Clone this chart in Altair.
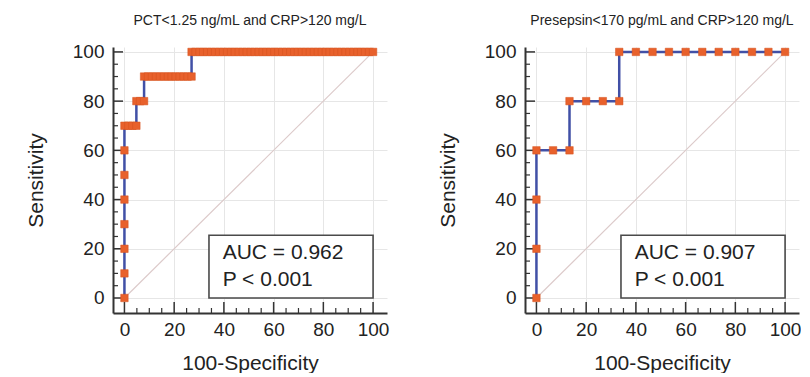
import altair as alt
import pandas as pd

# ---------------- data ----------------
left_title = "PCT<1.25 ng/mL and CRP>120 mg/L"
right_title = "Presepsin<170 pg/mL and CRP>120 mg/L"
left_auc = ["AUC = 0.962", "P < 0.001"]
right_auc = ["AUC = 0.907", "P < 0.001"]

# ROC points (100-Specificity, Sensitivity)
left_x = [0, 0, 0, 0, 0, 0, 0, 0,
          1.6, 3.2, 4.8,
          4.8, 6.3, 7.9,
          7.9, 9.5, 11.1, 12.7, 14.3, 15.9, 17.5, 19.0, 20.6, 22.2, 23.8, 25.4, 27.0,
          27.0, 28.6, 30.2, 31.7, 33.3, 34.9, 36.5, 38.1, 39.7, 41.3, 42.9, 44.4,
          46.0, 47.6, 49.2, 50.8, 52.4, 54.0, 55.6, 57.1, 58.7, 60.3, 61.9, 63.5,
          65.1, 66.7, 68.3, 69.8, 71.4, 73.0, 74.6, 76.2, 77.8, 79.4, 81.0, 82.5,
          84.1, 85.7, 87.3, 88.9, 90.5, 92.1, 93.7, 95.2, 96.8, 98.4, 100]
left_y = [0, 10, 20, 30, 40, 50, 60, 70,
          70, 70, 70,
          80, 80, 80,
          90, 90, 90, 90, 90, 90, 90, 90, 90, 90, 90, 90, 90,
          100, 100, 100, 100, 100, 100, 100, 100, 100, 100, 100, 100,
          100, 100, 100, 100, 100, 100, 100, 100, 100, 100, 100, 100,
          100, 100, 100, 100, 100, 100, 100, 100, 100, 100, 100, 100,
          100, 100, 100, 100, 100, 100, 100, 100, 100, 100, 100]

right_x = [0, 0, 0, 0, 6.7, 13.3, 13.3, 20.0, 26.7, 33.3,
           33.3, 40.0, 46.7, 53.3, 60.0, 66.7, 73.3, 80.0, 86.7, 93.3, 100]
right_y = [0, 20, 40, 60, 60, 60, 80, 80, 80, 80,
           100, 100, 100, 100, 100, 100, 100, 100, 100, 100, 100]

major_ticks = [0, 20, 40, 60, 80, 100]
minor_ticks = [5, 10, 15, 25, 30, 35, 45, 50, 55, 65, 70, 75, 85, 90, 95]

# ---------------- style ----------------
W, H = 274, 266
XDOM = [-4.6, 105.6]
YDOM = [-6.1, 102]
FONT = "Liberation Sans"
AX = "#333333"
ORANGE = "#E8612C"
BLUE = "#4150A6"


def panel(xs, ys, title, auc):
    roc = pd.DataFrame({"fpr": xs, "sens": ys, "order": list(range(len(xs)))})
    xsc = alt.Scale(domain=XDOM, nice=False, zero=False)
    ysc = alt.Scale(domain=YDOM, nice=False, zero=False)

    x_axis = alt.Axis(values=major_ticks, title="100-Specificity", format="d",
                      grid=True, gridColor="#e6e6e6", gridWidth=1, ticks=False,
                      domainColor=AX, domainWidth=2,
                      labelFont=FONT, labelFontSize=19, labelColor="#222222",
                      labelPadding=7, labelFlush=False, labelOverlap=False,
                      titleFont=FONT, titleFontSize=21, titleFontWeight="normal",
                      titleColor="#222222", titlePadding=13)
    y_axis = alt.Axis(values=major_ticks, title="Sensitivity", format="d",
                      grid=True, gridColor="#e6e6e6", gridWidth=1, ticks=False,
                      domainColor=AX, domainWidth=2,
                      labelFont=FONT, labelFontSize=19, labelColor="#222222",
                      labelPadding=9, labelFlush=False, labelOverlap=False,
                      titleFont=FONT, titleFontSize=21, titleFontWeight="normal",
                      titleColor="#222222", titlePadding=26)

    def X(f="fpr"):
        return alt.X(f"{f}:Q", scale=xsc, axis=x_axis)

    def Y(f="sens"):
        return alt.Y(f"{f}:Q", scale=ysc, axis=y_axis)

    diag = alt.Chart(pd.DataFrame({"fpr": [0, 100], "sens": [0, 100]})).mark_line(
        color="#dccaca", strokeWidth=1.2
    ).encode(x=X(), y=Y())

    one = pd.DataFrame({"a": [0]})
    box = alt.Chart(one).mark_rect(fill="white", stroke="#4a4a4a", strokeWidth=1.6).encode(
        x=alt.datum(34), x2=alt.datum(100), y=alt.datum(0), y2=alt.datum(25.5))
    t1 = alt.Chart(one).mark_text(align="left", baseline="alphabetic", font=FONT,
                                  fontSize=21, color="#222222").encode(
        x=alt.datum(39.5), y=alt.datum(15.8), text=alt.value(auc[0]))
    t2 = alt.Chart(one).mark_text(align="left", baseline="alphabetic", font=FONT,
                                  fontSize=21, color="#222222").encode(
        x=alt.datum(39.5), y=alt.datum(4.8), text=alt.value(auc[1]))

    tdf_major_x = pd.DataFrame({"fpr": major_ticks})
    tdf_minor_x = pd.DataFrame({"fpr": minor_ticks})
    tdf_major_y = pd.DataFrame({"sens": major_ticks})
    tdf_minor_y = pd.DataFrame({"sens": minor_ticks})
    xt_maj = alt.Chart(tdf_major_x).mark_rule(color=AX, strokeWidth=1.5).encode(
        x=X(), y=alt.value(H), y2=alt.value(H - 11))
    xt_min = alt.Chart(tdf_minor_x).mark_rule(color=AX, strokeWidth=1.2).encode(
        x=X(), y=alt.value(H), y2=alt.value(H - 5))
    yt_maj = alt.Chart(tdf_major_y).mark_rule(color=AX, strokeWidth=1.5).encode(
        y=Y(), x=alt.value(0), x2=alt.value(10))
    yt_min = alt.Chart(tdf_minor_y).mark_rule(color=AX, strokeWidth=1.2).encode(
        y=Y(), x=alt.value(0), x2=alt.value(5))

    line = alt.Chart(roc).mark_line(color=BLUE, strokeWidth=2.5).encode(
        x=X(), y=Y(), order="order:Q")
    pts = alt.Chart(roc).mark_square(size=56, color=ORANGE, opacity=1, filled=True,
                                     stroke="#d4521f", strokeWidth=0.5).encode(
        x=X(), y=Y())

    return alt.layer(diag, box, t1, t2, xt_maj, xt_min, yt_maj, yt_min, line, pts).properties(
        width=W, height=H,
        title=alt.TitleParams(title, font=FONT, fontSize=14, fontWeight="normal",
                              color="#222222", anchor="middle", offset=15))


chart = alt.hconcat(
    panel(left_x, left_y, left_title, left_auc),
    panel(right_x, right_y, right_title, right_auc),
    spacing=48,
).properties(
    padding={"left": 17, "top": 5, "right": 0, "bottom": 0}
).configure_view(stroke=None)

chart.save("out.html", embed_options={"renderer": "svg", "actions": False})
